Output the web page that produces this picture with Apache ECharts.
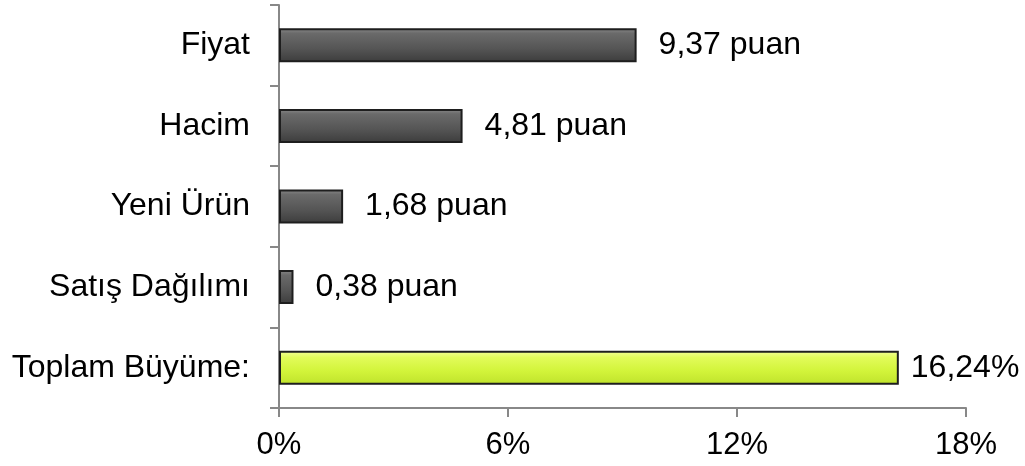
<!DOCTYPE html>
<html>
<head>
<meta charset="utf-8">
<script src="https://cdn.jsdelivr.net/npm/echarts@6/dist/echarts.min.js"></script>
<style>html,body{margin:0;padding:0;background:#fff;}#c{width:1025px;height:466px;}</style>
</head>
<body>
<div id="c"></div>
<script>
var categories = ['Fiyat', 'Hacim', 'Yeni Ürün', 'Satış Dağılımı', 'Toplam Büyüme:'];
var values = [9.37, 4.81, 1.68, 0.38, 16.24];
var suffixes = [' puan', ' puan', ' puan', ' puan', '%'];
var highlight = [false, false, false, false, true];

var darkFill = new echarts.graphic.LinearGradient(0, 0, 0, 1, [
  {offset: 0, color: '#8a8a8a'}, {offset: 0.15, color: '#6a6a6a'},
  {offset: 0.6, color: '#555555'}, {offset: 1, color: '#3c3c3c'}]);
var greenFill = new echarts.graphic.LinearGradient(0, 0, 0, 1, [
  {offset: 0, color: '#f4ff9a'}, {offset: 0.2, color: '#e2fb5a'},
  {offset: 0.6, color: '#d2f43a'}, {offset: 1, color: '#bfe22c'}]);

var data = values.map(function (v, i) {
  return {
    value: v,
    itemStyle: {color: highlight[i] ? greenFill : darkFill, borderColor: '#1e1e1e', borderWidth: 2},
    label: {distance: highlight[i] ? 12 : 22}
  };
});

var FONT = 'Liberation Sans, Arial';
var chart = echarts.init(document.getElementById('c'));
chart.setOption({
  animation: false,
  grid: {left: 279, right: 59, top: 5, bottom: 58, containLabel: false},
  xAxis: {
    type: 'value', min: 0, max: 18, interval: 6,
    axisLine: {show: true, lineStyle: {color: '#888', width: 2}},
    axisTick: {show: true, length: 9, lineStyle: {color: '#888', width: 2}},
    splitLine: {show: false},
    axisLabel: {margin: 22, color: '#000', fontSize: 31, fontFamily: FONT,
      formatter: function (v) { return v + '%'; }}
  },
  yAxis: {
    type: 'category', data: categories, inverse: true,
    axisLine: {show: true, lineStyle: {color: '#888', width: 2}},
    axisTick: {show: true, length: 9, lineStyle: {color: '#888', width: 2}},
    axisLabel: {margin: 29, color: '#000', fontSize: 32, fontFamily: FONT}
  },
  series: [{
    type: 'bar', data: data, barWidth: 34,
    label: {show: true, position: 'right', color: '#000', fontSize: 32, fontFamily: FONT,
      formatter: function (p) { return String(p.value).replace('.', ',') + suffixes[p.dataIndex]; }}
  }]
});
</script>
</body>
</html>
